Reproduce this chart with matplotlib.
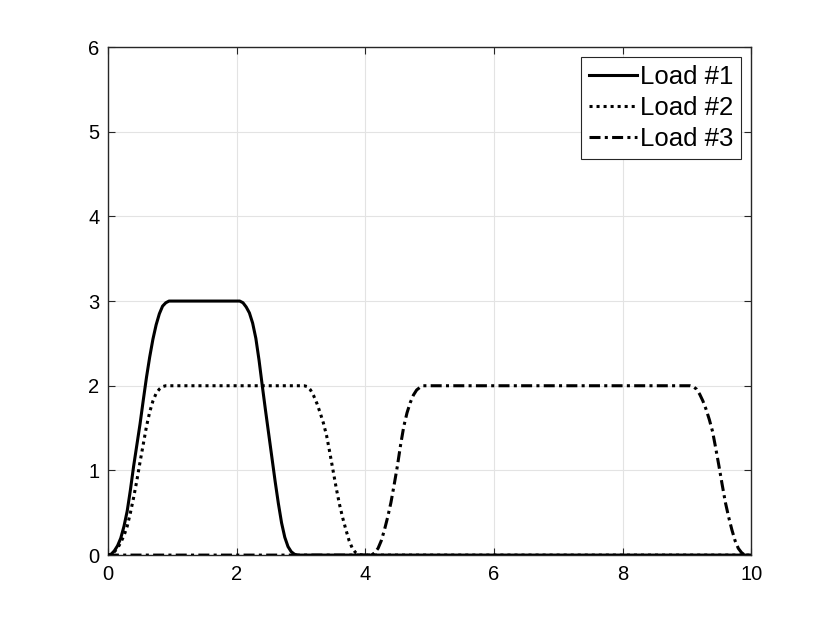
import matplotlib
matplotlib.use("Agg")
import matplotlib.pyplot as plt

# Load #1
t1 = [0.0, 0.05, 0.1, 0.15, 0.2, 0.25, 0.3, 0.35, 0.4, 0.45, 0.5, 0.55, 0.6,
      0.65, 0.7, 0.75, 0.8, 0.85, 0.9, 0.95,
      2.05, 2.1, 2.15, 2.2, 2.25, 2.3, 2.35, 2.4, 2.45, 2.5, 2.55, 2.6,
      2.65, 2.7, 2.75, 2.8, 2.85, 2.9, 2.95, 10.0]
y1 = [0.0, 0.01, 0.05, 0.11, 0.2, 0.34, 0.52, 0.77, 1.05, 1.3, 1.55, 1.83, 2.1,
      2.34, 2.55, 2.72, 2.85, 2.94, 2.98, 3.0,
      3.0, 2.98, 2.93, 2.86, 2.74, 2.56, 2.3, 2.0, 1.71, 1.43, 1.15, 0.87,
      0.61, 0.38, 0.21, 0.1, 0.04, 0.01, 0.0, 0.0]

# Load #2
t2 = [0.0, 0.05, 0.1, 0.15, 0.2, 0.25, 0.3, 0.35, 0.4, 0.45, 0.5, 0.55, 0.6,
      0.65, 0.7, 0.75, 0.8, 0.85, 0.9,
      3.05, 3.1, 3.15, 3.2, 3.25, 3.3, 3.35, 3.4, 3.45, 3.5, 3.55, 3.6,
      3.65, 3.7, 3.75, 3.8, 3.85, 3.9, 3.95, 10.0]
y2 = [0.0, 0.01, 0.04, 0.08, 0.15, 0.23, 0.34, 0.5, 0.68, 0.88, 1.1, 1.31, 1.52,
      1.69, 1.82, 1.91, 1.96, 1.99, 2.0,
      2.0, 1.99, 1.95, 1.88, 1.79, 1.68, 1.56, 1.41, 1.21, 1.0, 0.79, 0.6,
      0.44, 0.3, 0.17, 0.08, 0.03, 0.01, 0.0, 0.0]

# Load #3
t3 = [0.0, 4.1, 4.15, 4.2, 4.25, 4.3, 4.35, 4.4, 4.45, 4.5, 4.55, 4.6,
      4.65, 4.7, 4.75, 4.8, 4.85, 4.9,
      9.05, 9.1, 9.15, 9.2, 9.25, 9.3, 9.35, 9.4, 9.45, 9.5, 9.55, 9.6,
      9.65, 9.7, 9.75, 9.8, 9.85, 9.9]
y3 = [0.0, 0.0, 0.03, 0.08, 0.17, 0.3, 0.45, 0.62, 0.83, 1.05, 1.3, 1.52,
      1.68, 1.8, 1.89, 1.95, 1.98, 2.0,
      2.0, 1.99, 1.96, 1.9, 1.82, 1.72, 1.6, 1.46, 1.26, 1.05, 0.83, 0.62,
      0.45, 0.3, 0.17, 0.08, 0.03, 0.0]

labels = ["Load #1", "Load #2", "Load #3"]
xticks = [0, 2, 4, 6, 8, 10]
yticks = [0, 1, 2, 3, 4, 5, 6]

plt.rcParams['font.family'] = ['Liberation Sans', 'DejaVu Sans']
axcol = '#262626'

fig = plt.figure(figsize=(8.3, 6.23), dpi=100)
ax = fig.add_axes([0.130, 0.109, 0.775, 0.8155])

ax.plot(t1, y1, color='black', lw=2.2, linestyle='-', label=labels[0], zorder=3)
ax.plot(t2, y2, color='black', lw=2.2, linestyle=(0, (1, 1.3)), label=labels[1], zorder=3)
ax.plot(t3, y3, color='black', lw=2.2, linestyle=(0, (3.6, 1.4, 1, 1.4)), label=labels[2], zorder=3)

ax.set_xlim(0, 10)
ax.set_ylim(0, 6)
ax.set_xticks(xticks)
ax.set_yticks(yticks)
ax.grid(True, color='#e3e3e3', lw=0.8)
ax.set_axisbelow(True)
for s in ax.spines.values():
    s.set_color(axcol)
    s.set_linewidth(1.0)
ax.tick_params(direction='in', length=5, width=0.8, color=axcol,
               labelsize=14.5, labelcolor='black', top=True, right=True)
ax.tick_params(axis='x', pad=7)
ax.tick_params(axis='y', pad=6)

leg = ax.legend(loc='upper right', fontsize=18.5, frameon=True, fancybox=False,
                edgecolor=axcol, handlelength=1.85, handletextpad=0.12,
                borderaxespad=0.4, borderpad=0.3, labelspacing=0.28)
leg.get_frame().set_linewidth(0.8)
leg.get_frame().set_alpha(1)

fig.savefig('out.png', dpi=100)
